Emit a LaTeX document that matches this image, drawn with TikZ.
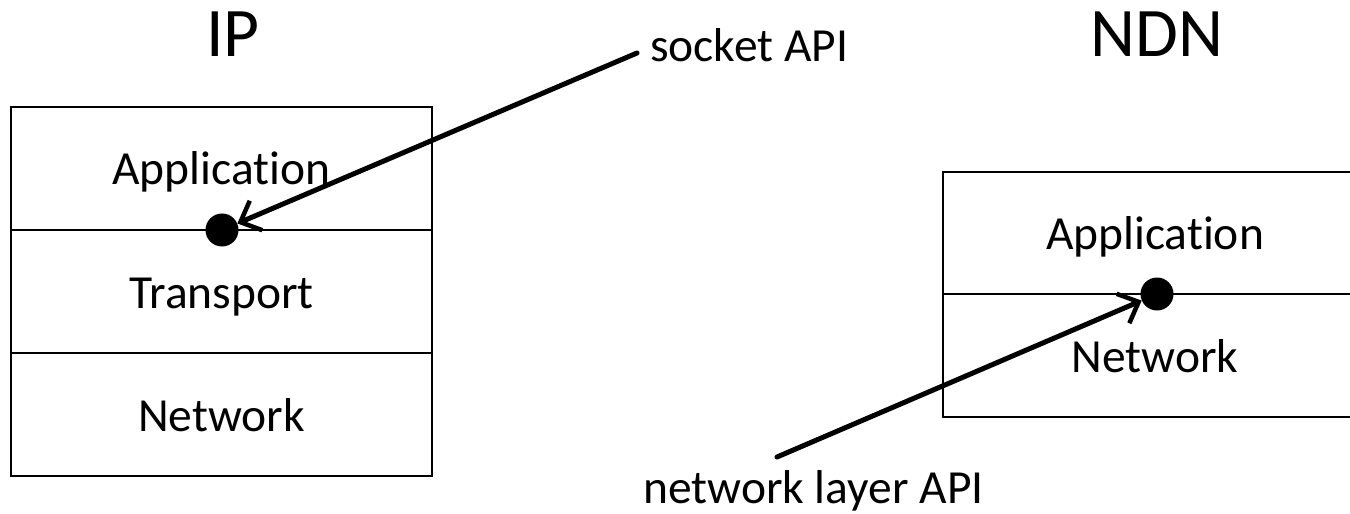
\documentclass[tikz,border=0pt]{standalone}
\usepackage{fontspec}
\setmainfont{Carlito}[Ligatures={NoCommon},RawFeature={-liga;-clig}]
\usetikzlibrary{arrows.meta}
\begin{document}
\begin{tikzpicture}[x=1bp,y=-1bp,
  layer/.style={draw,line width=2.5bp,rectangle,inner sep=0pt,text height=33bp,text depth=0pt,
    font=\fontsize{47.5bp}{55bp}\selectfont},
  title/.style={anchor=base,inner sep=0pt,font=\fontsize{69.6bp}{80bp}\selectfont},
  lbl/.style={anchor=base west,inner sep=0pt,font=\fontsize{47.5bp}{55bp}\selectfont},
  apidot/.style={circle,fill=black,inner sep=0pt,minimum size=33bp},
  api/.style={line width=5bp,line cap=round,-{Straight Barb[length=17bp,width=32bp,line width=4.5bp]}}]
\useasboundingbox (0,0) rectangle (1350,514);
\clip (0,0) rectangle (1350,514);
% titles
\node[title] (ip) at (233,57) {IP};
\node[title] (ndn) at (1157,57) {NDN};
% IP stack
\node[layer,minimum width=421bp,minimum height=123bp] (ipapp) at (221.5,168.5) {Application};
\node[layer,minimum width=421bp,minimum height=123bp] (iptr) at (221.5,291.5) {Transport};
\node[layer,minimum width=421bp,minimum height=123bp] (ipnet) at (221.5,414.5) {Network};
% NDN stack
\node[layer,minimum width=424bp,minimum height=122bp] (ndnapp) at (1155,233) {Application};
\node[layer,minimum width=424bp,minimum height=123bp] (ndnnet) at (1155,355.5) {Network};
% dots
\node[apidot] (dotL) at (222,230) {};
\node[apidot] (dotR) at (1157,294) {};
% labels
\node[lbl] (sock) at (650,62) {socket API};
\node[lbl] (netapi) at (643,503) {network layer API};
\coordinate (sockEnd) at (637,53);
\coordinate (netEnd) at (777,457);
\draw[api] (sockEnd) -- (dotL);
\draw[api] (netEnd) -- (dotR);
\end{tikzpicture}
\end{document}
